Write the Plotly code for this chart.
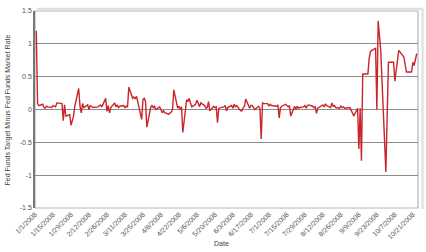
import plotly.graph_objects as go

dates = [
    "2008-01-02", "2008-01-03", "2008-01-04", "2008-01-07", "2008-01-08", "2008-01-09",
    "2008-01-10", "2008-01-11", "2008-01-14", "2008-01-15", "2008-01-16", "2008-01-17",
    "2008-01-18", "2008-01-22", "2008-01-23", "2008-01-24", "2008-01-25", "2008-01-28",
    "2008-01-29", "2008-01-30", "2008-01-31",
    "2008-02-01", "2008-02-04", "2008-02-05", "2008-02-06", "2008-02-07", "2008-02-08",
    "2008-02-11", "2008-02-12", "2008-02-13", "2008-02-14", "2008-02-15", "2008-02-19",
    "2008-02-20", "2008-02-21", "2008-02-22", "2008-02-25", "2008-02-26", "2008-02-27",
    "2008-02-28", "2008-02-29",
    "2008-03-03", "2008-03-04", "2008-03-05", "2008-03-06", "2008-03-07", "2008-03-10",
    "2008-03-11", "2008-03-12", "2008-03-13", "2008-03-14", "2008-03-17", "2008-03-18",
    "2008-03-19", "2008-03-20", "2008-03-24", "2008-03-25", "2008-03-26", "2008-03-27",
    "2008-03-28", "2008-03-31",
    "2008-04-01", "2008-04-02", "2008-04-03", "2008-04-04", "2008-04-07", "2008-04-08",
    "2008-04-09", "2008-04-10", "2008-04-11", "2008-04-14", "2008-04-15", "2008-04-16",
    "2008-04-17", "2008-04-18", "2008-04-21", "2008-04-22", "2008-04-23", "2008-04-24",
    "2008-04-25", "2008-04-28", "2008-04-29", "2008-04-30",
    "2008-05-01", "2008-05-02", "2008-05-05", "2008-05-06", "2008-05-07", "2008-05-08",
    "2008-05-09", "2008-05-12", "2008-05-13", "2008-05-14", "2008-05-15", "2008-05-16",
    "2008-05-19", "2008-05-20", "2008-05-21", "2008-05-22", "2008-05-23", "2008-05-27",
    "2008-05-28", "2008-05-29", "2008-05-30",
    "2008-06-02", "2008-06-03", "2008-06-04", "2008-06-05", "2008-06-06", "2008-06-09",
    "2008-06-10", "2008-06-11", "2008-06-12", "2008-06-13", "2008-06-16", "2008-06-17",
    "2008-06-18", "2008-06-19", "2008-06-20", "2008-06-23", "2008-06-24", "2008-06-25",
    "2008-06-26", "2008-06-27", "2008-06-30",
    "2008-07-01", "2008-07-02", "2008-07-03", "2008-07-07", "2008-07-08", "2008-07-09",
    "2008-07-10", "2008-07-11", "2008-07-14", "2008-07-15", "2008-07-16", "2008-07-17",
    "2008-07-18", "2008-07-21", "2008-07-22", "2008-07-23", "2008-07-24", "2008-07-25",
    "2008-07-28", "2008-07-29", "2008-07-30", "2008-07-31",
    "2008-08-01", "2008-08-04", "2008-08-05", "2008-08-06", "2008-08-07", "2008-08-08",
    "2008-08-11", "2008-08-12", "2008-08-13", "2008-08-14", "2008-08-15", "2008-08-18",
    "2008-08-19", "2008-08-20", "2008-08-21", "2008-08-22", "2008-08-25", "2008-08-26",
    "2008-08-27", "2008-08-28", "2008-08-29",
    "2008-09-02", "2008-09-03", "2008-09-04", "2008-09-05", "2008-09-08", "2008-09-09",
    "2008-09-10", "2008-09-11", "2008-09-12", "2008-09-15", "2008-09-16", "2008-09-17",
    "2008-09-18", "2008-09-19", "2008-09-22", "2008-09-23", "2008-09-24", "2008-09-26",
    "2008-09-30",
    "2008-10-02", "2008-10-06", "2008-10-07", "2008-10-09", "2008-10-10", "2008-10-14",
    "2008-10-16", "2008-10-20", "2008-10-21", "2008-10-22", "2008-10-24",
]

spread = [
    1.20, 0.09, 0.06, 0.08, 0.03, 0.02,
    0.05, 0.04, 0.03, 0.06, 0.05, 0.04,
    0.10, 0.09, -0.17, 0.07, -0.10, -0.08,
    -0.24, -0.15, -0.10,
    0.05, 0.32, 0.05, -0.05, 0.09, 0.03,
    0.07, 0.00, 0.06, 0.05, 0.03, 0.04,
    0.06, 0.07, 0.04, 0.17, -0.03, 0.06,
    -0.05, 0.03,
    0.10, 0.04, 0.07, 0.03, 0.05, 0.06,
    0.03, 0.05, 0.04, 0.34, 0.17, 0.19,
    0.16, 0.20, -0.15, 0.15, 0.17, 0.12,
    -0.27, 0.03,
    0.06, 0.03, 0.05, 0.00, 0.04, 0.00,
    -0.05, -0.02, -0.05, -0.07, -0.06, -0.04,
    0.00, 0.30, 0.02, 0.05, 0.00, 0.04,
    -0.35, 0.15, 0.12, 0.17,
    0.10, 0.04, 0.08, 0.14, 0.10, 0.04,
    0.10, 0.06, 0.02, 0.03, 0.12, -0.02,
    0.05, 0.03, 0.04, -0.20, 0.02, 0.04,
    0.06, -0.02, 0.03,
    0.06, 0.02, 0.08, 0.04, 0.06, -0.02,
    -0.02, 0.03, 0.05, 0.16, 0.02, 0.06,
    0.06, 0.03, 0.00, 0.05, 0.02, -0.45,
    0.10, 0.09, 0.09,
    0.05, 0.08, 0.06, 0.05, 0.07, -0.13,
    0.03, 0.05, 0.08, 0.06, 0.04, 0.06,
    -0.10, 0.05, 0.00, 0.05, 0.02, 0.03,
    0.04, 0.06, 0.02, 0.06,
    0.07, 0.05, 0.03, 0.04, -0.06, 0.02,
    0.05, 0.07, 0.04, 0.08, 0.06, 0.03,
    0.10, 0.05, 0.06, 0.03, 0.02, 0.05,
    0.03, 0.04, 0.02,
    0.03, -0.01, -0.05, -0.10, 0.02, -0.60,
    0.02, -0.78, 0.54, 0.54, 0.54, 0.77,
    0.88, 0.90, 0.93, 0.00, 1.35, 0.90,
    -0.95,
    0.72, 0.72, 0.43, 0.72, 0.90, 0.80,
    0.57, 0.57, 0.72, 0.67, 0.85,
]

y_ticks = [1.5, 1, 0.5, 0, -0.5, -1, -1.5]
y_tick_labels = ["1.5", "1", "0.5", "0", "-0.5", "-1", "-1.5"]

fig = go.Figure()
fig.add_trace(go.Scatter(
    x=dates, y=spread, mode="lines",
    line=dict(color="#c9252b", width=1.4),
    showlegend=False,
))

font_family = "Liberation Sans, Arial, sans-serif"

fig.update_layout(
    width=426, height=252,
    margin=dict(l=35, r=8, t=7, b=44),
    paper_bgcolor="white", plot_bgcolor="white",
    font=dict(family=font_family, size=7, color="#555555"),
    xaxis=dict(
        type="date",
        range=["2008-01-01", "2008-10-25"],
        tick0="2008-01-01", dtick=14 * 86400000,
        tickformat="%-m/%-d/%Y", tickangle=-45,
        tickfont=dict(size=7, color="#555555"),
        showgrid=False, zeroline=False,
        showline=False, ticks="",
    ),
    yaxis=dict(
        range=[-1.5, 1.5],
        tickvals=y_ticks, ticktext=y_tick_labels,
        tickfont=dict(size=7, color="#555555"),
        showgrid=True, gridcolor="#8c8c8c", gridwidth=1,
        zeroline=False, showline=True, linecolor="#777777", linewidth=1.5,
        ticks="", ticklen=0,
    ),
    shapes=[
        dict(type="rect", xref="paper", yref="paper", x0=0, x1=1, y0=0, y1=1,
             line=dict(color="#b5b5b5", width=1.2), layer="below"),
        dict(type="line", xref="paper", yref="paper", x0=0.005, x1=1.012, y0=1.012, y1=1.012,
             line=dict(color="#dddddd", width=2), layer="below"),
        dict(type="line", xref="paper", yref="paper", x0=1.012, x1=1.012, y0=-0.005, y1=1.012,
             line=dict(color="#dddddd", width=2), layer="below"),
    ],
    annotations=[
        dict(text="Fed Funds Target Minus Fed Funds Market Rate", textangle=-90,
             xref="paper", yref="paper", x=-0.0705, y=0.5,
             xanchor="center", yanchor="middle", showarrow=False,
             font=dict(size=7, color="#444444")),
        dict(text="Date", xref="paper", yref="paper", x=0.486, y=-0.179,
             xanchor="center", yanchor="middle", showarrow=False,
             font=dict(size=7, color="#444444")),
    ],
)

fig.write_html("out.html")
